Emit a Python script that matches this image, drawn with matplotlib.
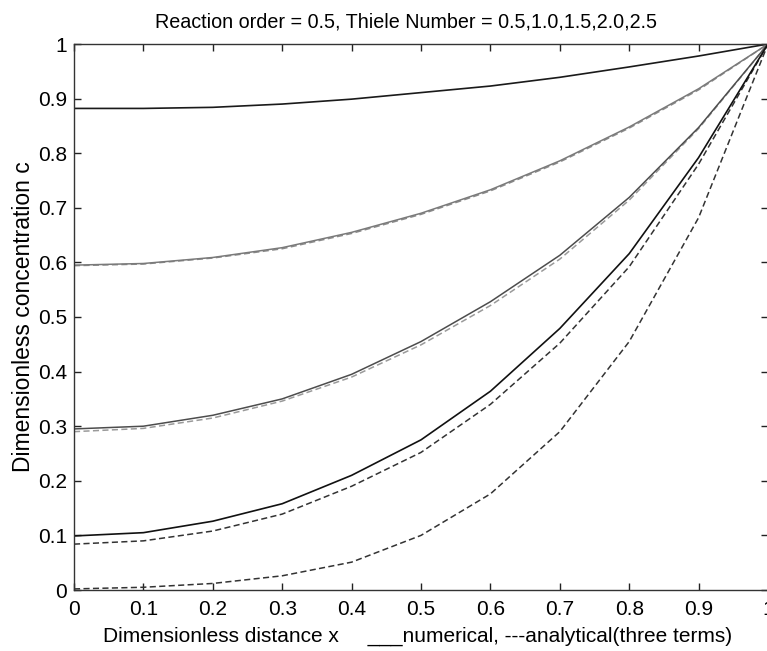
import numpy as np
import matplotlib
matplotlib.use('Agg')
import matplotlib.pyplot as plt

plt.rcParams['font.family'] = ['Liberation Sans', 'DejaVu Sans']

# dimensionless distance
x = [0, 0.1, 0.2, 0.3, 0.4, 0.5, 0.6, 0.7, 0.8, 0.9, 1.0]

# numerical solutions (solid)
num_05 = [0.882, 0.882, 0.884, 0.890, 0.899, 0.911, 0.923, 0.939, 0.958, 0.978, 1.0]
num_10 = [0.595, 0.598, 0.609, 0.627, 0.655, 0.690, 0.733, 0.786, 0.848, 0.918, 1.0]
num_15 = [0.295, 0.300, 0.320, 0.350, 0.395, 0.455, 0.528, 0.613, 0.719, 0.847, 1.0]
num_20 = [0.099, 0.105, 0.126, 0.158, 0.210, 0.275, 0.364, 0.479, 0.616, 0.792, 1.0]

# analytical, three terms (dashed)
ana_10 = [0.594, 0.597, 0.608, 0.625, 0.653, 0.688, 0.731, 0.784, 0.846, 0.916, 1.0]
ana_15 = [0.290, 0.296, 0.315, 0.346, 0.390, 0.449, 0.521, 0.606, 0.714, 0.845, 1.0]
ana_20 = [0.084, 0.090, 0.108, 0.139, 0.190, 0.252, 0.340, 0.452, 0.592, 0.780, 1.0]
ana_25 = [0.002, 0.005, 0.012, 0.026, 0.051, 0.100, 0.176, 0.290, 0.455, 0.682, 1.0]

fig = plt.figure(figsize=(7.67, 6.51), dpi=100)
ax = fig.add_axes([74/767, 61/651, 694/767, 546/651])

dash = (0, (4, 2.2))
ax.plot(x, ana_10, color='#8c8c8c', lw=1.1, linestyle=dash)
ax.plot(x, ana_15, color='#9a9a9a', lw=1.1, linestyle=dash)
ax.plot(x, ana_20, color='#333333', lw=1.1, linestyle=dash)
ax.plot(x, ana_25, color='#333333', lw=1.1, linestyle=dash)

ax.plot(x, num_05, color='#1a1a1a', lw=1.2)
ax.plot(x, num_10, color='#7a7a7a', lw=1.1)
ax.plot(x, num_15, color='#4d4d4d', lw=1.1)
ax.plot(x, num_20, color='#111111', lw=1.2)

ax.set_xlim(0, 1)
ax.set_ylim(0, 1)
ticks = [0, 0.1, 0.2, 0.3, 0.4, 0.5, 0.6, 0.7, 0.8, 0.9, 1]
labels = ['0', '0.1', '0.2', '0.3', '0.4', '0.5', '0.6', '0.7', '0.8', '0.9', '1']
ax.set_xticks(ticks)
ax.set_xticklabels(labels)
ax.set_yticks(ticks)
ax.set_yticklabels(labels)
ax.tick_params(direction='in', length=5, width=1, top=True, right=True,
               labelsize=15, color='#222222')
ax.tick_params(axis='x', pad=7)
ax.tick_params(axis='y', pad=5)
for s in ax.spines.values():
    s.set_linewidth(1.0)
    s.set_color('#333333')

ax.set_title('Reaction order = 0.5, Thiele Number = 0.5,1.0,1.5,2.0,2.5',
             fontsize=14.2, pad=12, x=0.478)
ax.set_xlabel('Dimensionless distance x     ___numerical, ---analytical(three terms)',
              fontsize=15, labelpad=6, x=0.495)
ax.set_ylabel('Dimensionless concentration c', fontsize=16.5, labelpad=2)

fig.savefig('out.png', dpi=100)
